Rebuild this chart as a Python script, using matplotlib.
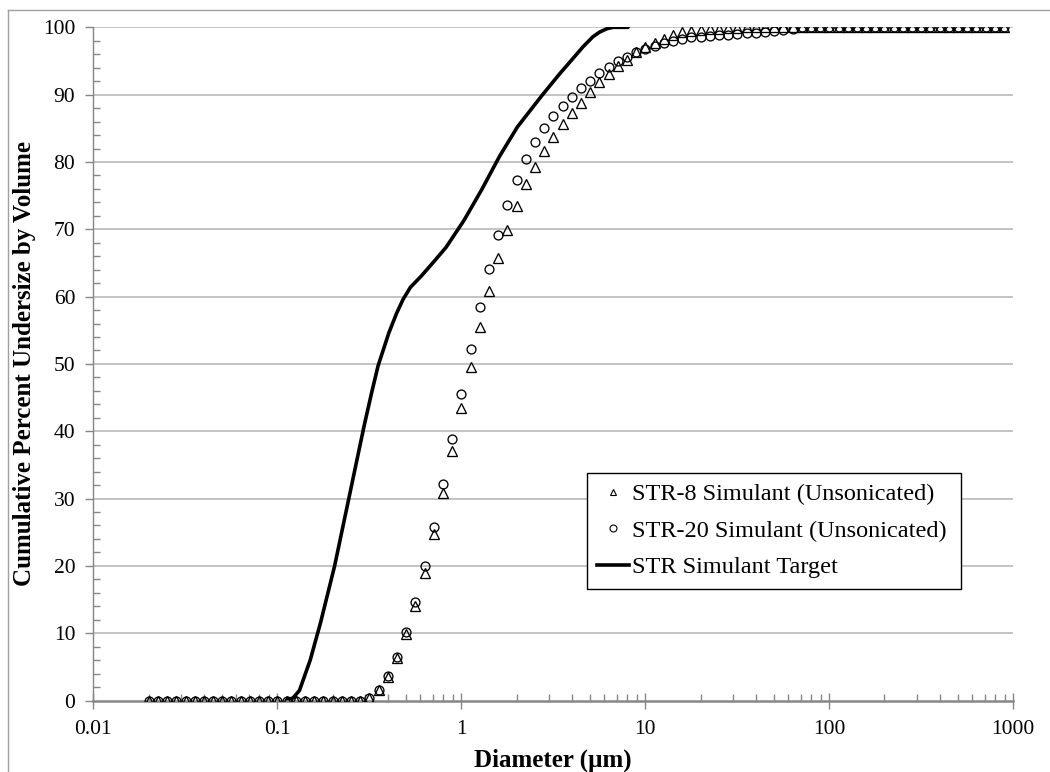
import matplotlib
matplotlib.use("Agg")
import matplotlib.pyplot as plt
from matplotlib.lines import Line2D
from matplotlib.ticker import LogLocator, FixedLocator, NullFormatter, FuncFormatter

plt.rcParams['font.family'] = ['Liberation Serif', 'DejaVu Serif']

# Particle diameters (um) of the measurement channels
diameters = [0.02, 0.02244, 0.02518, 0.02825, 0.03170, 0.03557, 0.03991, 0.04477, 0.05024, 0.05637,
             0.06325, 0.07096, 0.07962, 0.08934, 0.1002, 0.1125, 0.1262, 0.1416, 0.1589, 0.1783,
             0.2, 0.2244, 0.2518, 0.2825, 0.3170, 0.3557, 0.3991, 0.4477, 0.5024, 0.5637,
             0.6325, 0.7096, 0.7962, 0.8934, 1.002, 1.125, 1.262, 1.416, 1.589, 1.783,
             2.0, 2.244, 2.518, 2.825, 3.170, 3.557, 3.991, 4.477, 5.024, 5.637,
             6.325, 7.096, 7.962, 8.934, 10.02, 11.25, 12.62, 14.16, 15.89, 17.83,
             20.0, 22.44, 25.18, 28.25, 31.70, 35.57, 39.91, 44.77, 50.24, 56.37,
             63.25, 70.96, 79.62, 89.34, 100.2, 112.5, 126.2, 141.6, 158.9, 178.3,
             200.0, 224.4, 251.8, 282.5, 317.0, 355.7, 399.1, 447.7, 502.4, 563.7,
             632.5, 709.6, 796.2, 893.4]

str8 = [0]*24 + [0.3, 1.5, 3.5, 6.3, 9.9, 14.1, 19.0, 24.8, 30.8, 37.1,
                 43.5, 49.6, 55.5, 60.8, 65.8, 69.9, 73.5, 76.7, 79.3, 81.7,
                 83.7, 85.6, 87.2, 88.8, 90.4, 91.9, 93.1, 94.3, 95.2, 96.3,
                 97.1, 97.7, 98.3, 98.9, 99.3, 99.5, 99.6, 99.7, 99.8, 99.9,
                 99.9] + [100]*29

str20 = [0]*24 + [0.3, 1.6, 3.7, 6.5, 10.2, 14.6, 20.0, 25.8, 32.2, 38.8,
                  45.6, 52.2, 58.4, 64.1, 69.1, 73.6, 77.3, 80.4, 82.9, 85.0,
                  86.8, 88.3, 89.7, 91.0, 92.1, 93.2, 94.1, 95.0, 95.6, 96.4,
                  96.8, 97.3, 97.7, 98.0, 98.3, 98.5, 98.6, 98.7, 98.8, 98.9,
                  99.0, 99.1, 99.2, 99.3, 99.4, 99.6, 99.8] + [100]*23

target_d = [0.112, 0.122, 0.132, 0.151, 0.172, 0.205, 0.247, 0.296, 0.325, 0.353,
            0.404, 0.445, 0.483, 0.53, 0.604, 0.70, 0.826, 1.034, 1.293, 1.62,
            2.02, 2.46, 2.77, 3.43, 4.0, 4.59, 5.2, 5.66, 6.2, 6.69, 8.07]
target_v = [0, 0.4, 1.5, 6.0, 11.6, 20.0, 30.5, 40.7, 45.6, 49.7,
            54.6, 57.5, 59.6, 61.4, 63.0, 65.0, 67.3, 71.3, 75.9, 80.9,
            85.2, 88.2, 90.0, 93.1, 95.2, 97.1, 98.6, 99.3, 99.8, 100, 100]

labels = ['STR-8 Simulant (Unsonicated)', 'STR-20 Simulant (Unsonicated)', 'STR Simulant Target']
x_ticks = [0.01, 0.1, 1, 10, 100, 1000]
y_ticks = list(range(0, 101, 10))

fig = plt.figure(figsize=(10.5, 7.72), dpi=100)
ax = fig.add_axes([0.0889, 0.0926, 0.9648 - 0.0889, 0.9646 - 0.0926])

grid_c = '#b3b3b3'
axis_c = '#868686'
for yv in y_ticks[1:]:
    ax.axhline(yv, color=grid_c, lw=1.1, zorder=0)

ax.plot(target_d, target_v, color='black', lw=2.6, zorder=2, solid_capstyle='round')
ax.plot(diameters, str8, linestyle='none', marker='^', ms=6.6, mfc='none', mec='black', mew=0.95, zorder=3)
ax.plot(diameters, str20, linestyle='none', marker='o', ms=6.4, mfc='none', mec='black', mew=0.95, zorder=4)

ax.set_xscale('log')
ax.set_xlim(0.01, 1000)
ax.set_ylim(0, 100)
ax.xaxis.set_major_locator(FixedLocator(x_ticks))
ax.xaxis.set_major_formatter(FuncFormatter(lambda v, p: f'{v:g}'))
ax.xaxis.set_minor_locator(LogLocator(base=10, subs=range(2, 10), numticks=20))
ax.xaxis.set_minor_formatter(NullFormatter())
ax.yaxis.set_major_locator(FixedLocator(y_ticks))
ax.yaxis.set_minor_locator(FixedLocator([v for v in range(0, 101, 2) if v % 10 != 0]))

for s in ['top', 'right']:
    ax.spines[s].set_visible(False)
ax.spines['left'].set_color(axis_c)
ax.spines['left'].set_linewidth(1.0)
ax.spines['bottom'].set_color(axis_c)
ax.spines['bottom'].set_linewidth(1.8)

ax.tick_params(axis='x', which='major', direction='inout', length=12, width=1.0, color=axis_c,
               labelsize=15.5, pad=8)
ax.tick_params(axis='x', which='minor', direction='in', length=5, width=1.0, color=axis_c)
ax.tick_params(axis='y', which='major', direction='out', length=6, width=1.0, color=axis_c,
               labelsize=15.5, pad=7)
ax.tick_params(axis='y', which='minor', direction='in', length=5, width=1.0, color=axis_c)

ax.set_xlabel('Diameter (µm)', fontsize=18, fontweight='bold', labelpad=7)
ax.set_ylabel('Cumulative Percent Undersize by Volume', fontsize=18, fontweight='bold')
ax.yaxis.set_label_coords(-0.0627, 0.5)

handles = [Line2D([], [], linestyle='none', marker='^', ms=5, mfc='white', mec='black', mew=0.8),
           Line2D([], [], linestyle='none', marker='o', ms=5, mfc='white', mec='black', mew=0.8),
           Line2D([], [], color='black', lw=2.6)]
leg = ax.legend(handles, labels, loc='upper left', bbox_to_anchor=(0.5368, 0.1, 0.4067, 0.2379),
                mode='expand', fontsize=17.5, frameon=True, fancybox=False, framealpha=1,
                edgecolor='black', handlelength=1.3, handletextpad=0.12, labelspacing=0.6,
                borderpad=0.42, borderaxespad=0)
leg.get_frame().set_linewidth(1.0)
leg.set_zorder(10)

# outer chart border
fig.add_artist(Line2D([8/1050, 8/1050], [0, 1 - 10/772], transform=fig.transFigure, color='#a0a0a0', lw=1.0))
fig.add_artist(Line2D([8/1050, 1], [1 - 10/772, 1 - 10/772], transform=fig.transFigure, color='#a0a0a0', lw=1.0))

fig.savefig('out.png', dpi=100)
